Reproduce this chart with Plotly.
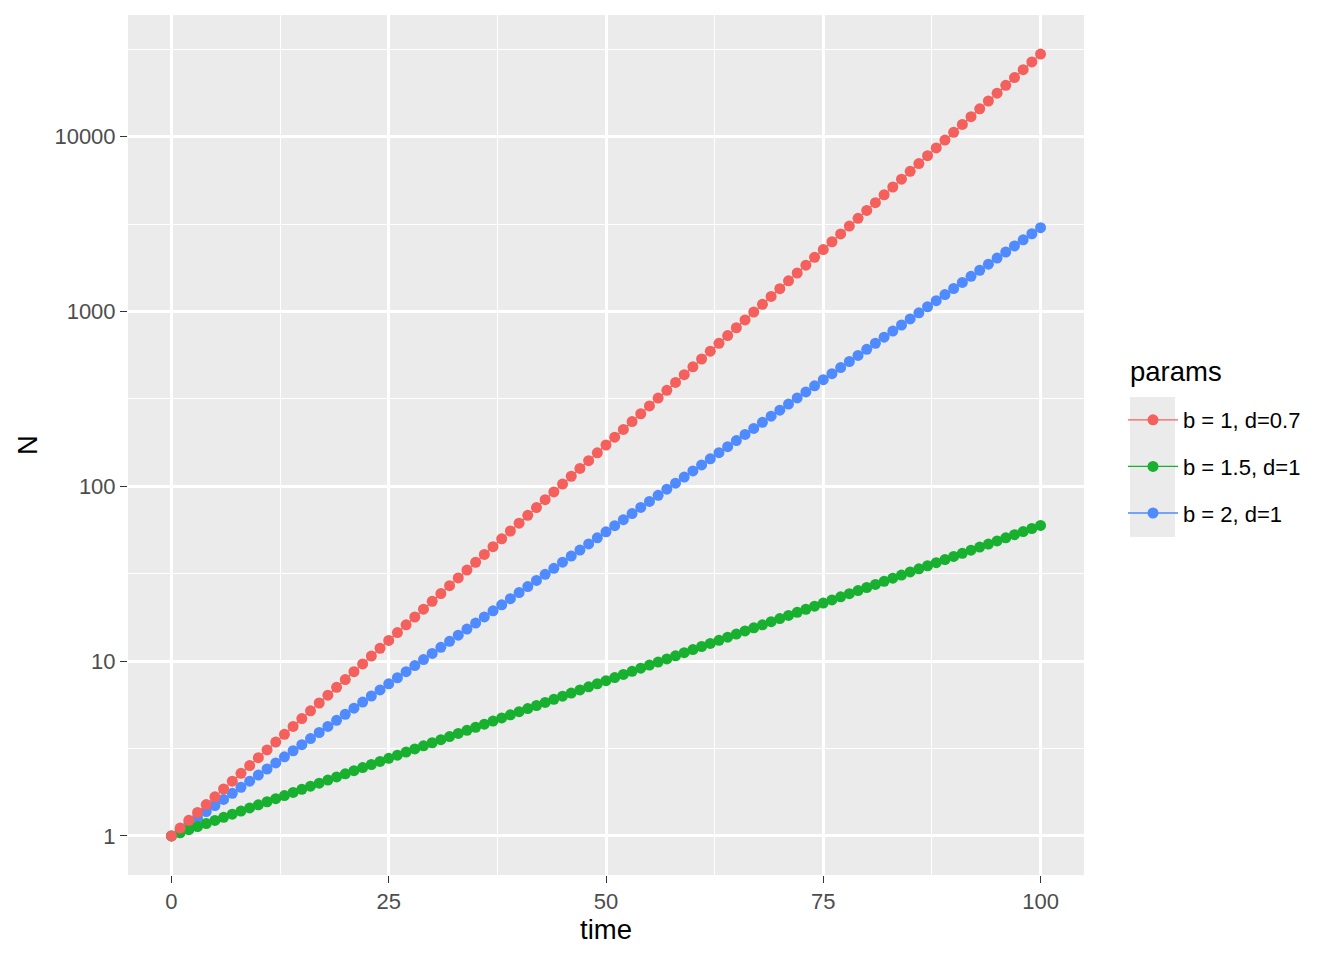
import plotly.graph_objects as go

time = list(range(0, 101))

series_names = ["b = 1, d=0.7", "b = 1.5, d=1", "b = 2, d=1"]
series_colors = ["#F5605C", "#17B12F", "#4F8BFF"]
legend_title = "params"

n_red = [1, 1.108, 1.228, 1.362, 1.510, 1.673, 1.855, 2.056, 2.279, 2.526,
         2.801, 3.104, 3.441, 3.814, 4.228, 4.687, 5.195, 5.758, 6.383, 7.075,
         7.843, 8.693, 9.635, 10.68, 11.84, 13.12, 14.55, 16.12, 17.87, 19.81,
         21.96, 24.34, 26.98, 29.91, 33.15, 36.75, 40.73, 45.15, 50.05, 55.47,
         61.49, 68.16, 75.55, 83.74, 92.83, 102.9, 114.1, 126.4, 140.1, 155.3,
         172.2, 190.8, 211.5, 234.5, 259.9, 288.1, 319.4, 354.0, 392.4, 434.9,
         482.1, 534.4, 592.4, 656.6, 727.8, 806.7, 894.2, 991.4, 1099, 1218,
         1350, 1497, 1659, 1839, 2039, 2259, 2504, 2776, 3077, 3411,
         3781, 4191, 4645, 5149, 5708, 6327, 7013, 7774, 8617, 9552,
         10588, 11737, 13010, 14420, 15985, 17719, 19640, 21770, 24132, 26749,
         29648]

n_green = [1, 1.0417, 1.0852, 1.1305, 1.1776, 1.2268, 1.2780, 1.3313, 1.3870, 1.4449,
           1.5051, 1.5680, 1.6334, 1.7016, 1.7726, 1.8466, 1.9237, 2.0040, 2.0876, 2.1748,
           2.2655, 2.3601, 2.4587, 2.5613, 2.6682, 2.7797, 2.8957, 3.0166, 3.1425, 3.2737,
           3.4104, 3.5527, 3.7010, 3.8556, 4.0165, 4.1842, 4.3589, 4.5409, 4.7305, 4.9279,
           5.1337, 5.3480, 5.5713, 5.8039, 6.0462, 6.2986, 6.5616, 6.8355, 7.1209, 7.4183,
           7.7280, 8.0506, 8.3867, 8.7369, 9.1017, 9.4817, 9.8755, 10.288, 10.718, 11.165,
           11.631, 12.117, 12.623, 13.150, 13.699, 14.271, 14.867, 15.487, 16.134, 16.808,
           17.509, 18.240, 19.002, 19.795, 20.622, 21.483, 22.380, 23.314, 24.288, 25.302,
           26.358, 27.459, 28.605, 29.799, 31.043, 32.339, 33.690, 35.096, 36.562, 38.088,
           39.679, 41.335, 43.061, 44.859, 46.732, 48.683, 50.715, 52.833, 55.039, 57.337,
           59.704]

n_blue = [1, 1.0834, 1.1738, 1.2717, 1.3778, 1.4927, 1.6172, 1.7521, 1.8983, 2.0566,
          2.2284, 2.4140, 2.6154, 2.8336, 3.0700, 3.3258, 3.6035, 3.9040, 4.2295, 4.5822,
          4.9645, 5.3784, 5.8271, 6.3131, 6.8398, 7.4103, 8.0283, 8.6979, 9.4221, 10.207,
          11.059, 11.982, 12.981, 14.063, 15.237, 16.507, 17.884, 19.376, 20.992, 22.743,
          24.640, 26.696, 28.923, 31.335, 33.948, 36.779, 39.847, 43.170, 46.771, 50.672,
          54.888, 59.465, 64.425, 69.799, 75.621, 81.928, 88.762, 96.169, 104.19, 112.88,
          122.29, 132.49, 143.55, 155.52, 168.49, 182.55, 197.78, 214.27, 232.15, 251.51,
          272.49, 295.22, 319.84, 346.52, 375.43, 406.74, 440.67, 477.43, 517.25, 560.39,
          607.14, 657.78, 712.65, 772.09, 836.50, 906.27, 981.87, 1063.8, 1152.5, 1248.6,
          1352.8, 1465.6, 1587.9, 1720.3, 1863.8, 2019.3, 2187.7, 2370.2, 2567.9, 2782.1,
          3013.0]

x_ticks = [0, 25, 50, 75, 100]
x_minor = [12.5, 37.5, 62.5, 87.5]
y_ticks = [1, 10, 100, 1000, 10000]
y_tick_text = ["1", "10", "100", "1000", "10000"]
y_minor = [3.1623, 31.623, 316.23, 3162.3, 31623]

FONT = "Liberation Sans, Arial, Helvetica, sans-serif"

# the page body adds an 8px offset; compensate so the panel lands where it should
W, H = 1328, 944
L, T = 120, 7
PW, PH = 956, 860

def px_x(p):
    return (p - 8 - L) / PW

def px_y(p):
    return (T + PH - (p - 8)) / PH

fig = go.Figure()
series = [n_red, n_green, n_blue]
for idx in [2, 1, 0]:
    fig.add_trace(go.Scatter(
        x=time, y=series[idx], mode="lines+markers",
        name=series_names[idx], legendgroup=series_names[idx], legendrank=idx + 1,
        line=dict(color=series_colors[idx], width=1.3),
        marker=dict(color=series_colors[idx], size=11, line=dict(width=0)),
    ))

fig.update_layout(
    width=W, height=H,
    margin=dict(l=L, r=W - L - PW, t=T, b=H - T - PH),
    paper_bgcolor="white", plot_bgcolor="#EBEBEB",
    font=dict(family=FONT, color="#000000"),
    showlegend=True,
    legend=dict(
        font=dict(size=22, color="#000000"),
        x=px_x(1123), xanchor="left", y=px_y(399), yanchor="top",
        bgcolor="rgba(0,0,0,0)", traceorder="grouped", tracegroupgap=15,
        itemwidth=50,
    ),
    annotations=[dict(text=legend_title, xref="paper", yref="paper",
                      x=px_x(1128), y=px_y(371), xanchor="left", yanchor="middle",
                      showarrow=False, font=dict(size=27.5, color="#000000"))],
    xaxis=dict(
        range=[-5, 105], tickmode="array", tickvals=x_ticks,
        showgrid=True, gridcolor="white", gridwidth=2.7, zeroline=False, showline=False,
        ticks="outside", ticklen=7, tickwidth=1.3, tickcolor="#333333",
        tickfont=dict(size=22, color="#4D4D4D"),
        title=dict(text="time", font=dict(size=27.5, color="#000000"), standoff=4),
        minor=dict(tickmode="array", tickvals=x_minor, showgrid=True, gridcolor="white", gridwidth=1.35, ticks=""),
    ),
    yaxis=dict(
        type="log", range=[-0.2236, 4.6956], tickmode="array", tickvals=y_ticks, ticktext=y_tick_text,
        showgrid=True, gridcolor="white", gridwidth=2.7, zeroline=False, showline=False,
        ticks="outside", ticklen=7, tickwidth=1.3, tickcolor="#333333",
        tickfont=dict(size=22, color="#4D4D4D"),
        title=dict(text="N", font=dict(size=27.5, color="#000000"), standoff=8),
        minor=dict(tickmode="array", tickvals=y_minor, showgrid=True, gridcolor="white", gridwidth=1.35, ticks=""),
    ),
    shapes=[dict(type="rect", xref="paper", yref="paper",
                 x0=px_x(1130), x1=px_x(1175),
                 y0=px_y(537), y1=px_y(397),
                 fillcolor="#EBEBEB", line=dict(width=0), layer="below")],
)

fig.write_html("out.html")
